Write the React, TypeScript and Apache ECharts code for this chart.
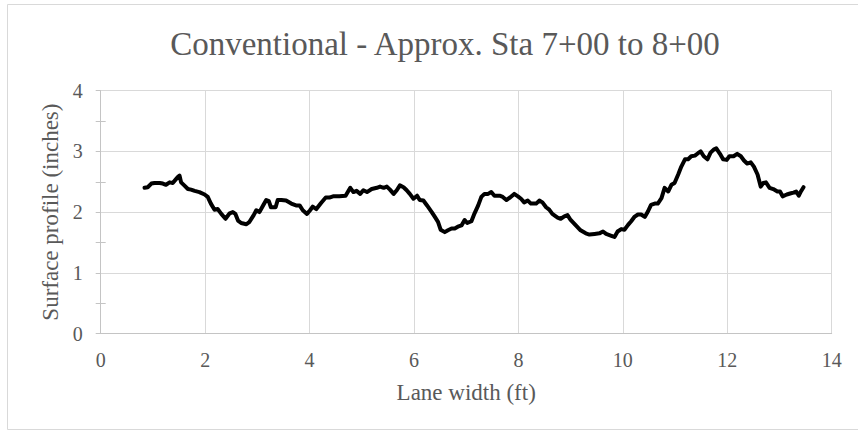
import React, { useEffect, useRef } from "react";
import * as echarts from "echarts";

// Transverse surface profile, conventional section, Sta 7+00 to 8+00
const laneWidth: number[] = [
  0.84, 0.9, 0.97, 1.03, 1.13, 1.19, 1.25, 1.32, 1.38, 1.43, 1.48, 1.51, 1.54, 1.6, 1.67, 1.73, 1.8, 1.89, 1.99,
  2.05, 2.11, 2.18, 2.24, 2.31, 2.39, 2.47, 2.53, 2.58, 2.63, 2.69, 2.79, 2.85, 2.93, 2.98, 3.04, 3.11, 3.17, 3.22,
  3.26, 3.35, 3.39, 3.46, 3.55, 3.65, 3.74, 3.81, 3.87, 3.95, 4.01, 4.06, 4.13, 4.22, 4.31, 4.38, 4.45, 4.57,
  4.69, 4.78, 4.84, 4.9, 4.97, 5.03, 5.1, 5.19, 5.29, 5.35, 5.42, 5.48, 5.54, 5.61, 5.67, 5.73, 5.8, 5.86, 5.92,
  5.99, 6.06, 6.11, 6.18, 6.25, 6.34, 6.4, 6.46, 6.51, 6.59, 6.65, 6.72, 6.78, 6.84, 6.91, 6.97, 7.02, 7.1, 7.16,
  7.23, 7.29, 7.35, 7.42, 7.48, 7.54, 7.64, 7.7, 7.77, 7.84, 7.92, 7.99, 8.05, 8.11, 8.18, 8.24, 8.34, 8.4, 8.46,
  8.53, 8.59, 8.65, 8.75, 8.81, 8.88, 8.94, 9.0, 9.1, 9.19,
  9.29, 9.36, 9.46, 9.55, 9.62, 9.68, 9.78, 9.84, 9.9, 9.97, 10.03, 10.1, 10.16, 10.22, 10.29, 10.35, 10.42,
  10.48, 10.54, 10.61, 10.67, 10.74, 10.8, 10.87, 10.93, 10.99, 11.06, 11.12, 11.19, 11.25, 11.31, 11.38, 11.44,
  11.49, 11.55, 11.62, 11.68, 11.74, 11.79, 11.86, 11.92, 11.99, 12.04, 12.12, 12.19, 12.26, 12.32, 12.38, 12.45,
  12.51, 12.58, 12.64, 12.69, 12.74, 12.81, 12.88, 12.96, 13.01, 13.06, 13.14, 13.22, 13.27, 13.32, 13.37, 13.41,
  13.46,
];

const surfaceProfile: number[] = [
  2.4, 2.41, 2.47, 2.48, 2.48, 2.47, 2.45, 2.49, 2.48, 2.53, 2.58, 2.6, 2.49, 2.44, 2.38, 2.37, 2.35, 2.33, 2.29,
  2.25, 2.14, 2.04, 2.05, 1.97, 1.89, 1.98, 2.0, 1.97, 1.86, 1.82, 1.8, 1.84, 1.95, 2.03, 2.0, 2.11, 2.2, 2.18,
  2.08, 2.08, 2.2, 2.2, 2.19, 2.14, 2.11, 2.11, 2.03, 1.97, 2.03, 2.09, 2.05, 2.15, 2.24, 2.24, 2.26, 2.26,
  2.27, 2.4, 2.33, 2.35, 2.3, 2.36, 2.33, 2.38, 2.4, 2.42, 2.4, 2.42, 2.37, 2.3, 2.36, 2.44, 2.41, 2.36, 2.3,
  2.22, 2.27, 2.2, 2.19, 2.11, 2.0, 1.92, 1.84, 1.71, 1.67, 1.7, 1.73, 1.73, 1.76, 1.78, 1.87, 1.82, 1.85, 1.98,
  2.11, 2.25, 2.3, 2.3, 2.33, 2.27, 2.27, 2.25, 2.2, 2.24, 2.3, 2.26, 2.22, 2.16, 2.19, 2.14, 2.14, 2.19, 2.16,
  2.08, 2.04, 1.97, 1.91, 1.89, 1.93, 1.95, 1.87, 1.78, 1.7,
  1.65, 1.63, 1.64, 1.65, 1.68, 1.64, 1.61, 1.59, 1.68, 1.72, 1.71, 1.79, 1.85, 1.92, 1.96, 1.96, 1.92,
  2.01, 2.12, 2.14, 2.14, 2.23, 2.4, 2.34, 2.45, 2.48, 2.62, 2.75, 2.87, 2.87, 2.92, 2.93, 2.97,
  3.0, 2.92, 2.87, 2.98, 3.03, 3.05, 2.96, 2.87, 2.86, 2.92, 2.92, 2.96, 2.92, 2.85, 2.8, 2.82,
  2.75, 2.62, 2.42, 2.48, 2.49, 2.4, 2.38, 2.34, 2.34, 2.26, 2.29, 2.31, 2.32, 2.34, 2.27, 2.34,
  2.41,
];

const xTicks = { min: 0, max: 14, interval: 2 };
const yTicks = { min: 0, max: 4, interval: 1 };
const minorYTicks: number[] = [0.5, 1.5, 2.5, 3.5];

const chartTitle = "Conventional - Approx. Sta 7+00 to 8+00";
const xName = "Lane width (ft)";
const yName = "Surface profile (inches)";

const FONT = "'Liberation Serif', 'Times New Roman', serif";
const TEXT = "#595959";
const GRID = "#d9d9d9";
const AXIS = "#c4c4c4";

export default function App() {
  const ref = useRef<HTMLDivElement>(null);

  useEffect(() => {
    if (!ref.current) return;
    const chart = echarts.init(ref.current, undefined, { renderer: "svg" });
    const points = laneWidth.map((x, i) => [x, surfaceProfile[i]]);

    chart.setOption({
      animation: false,
      backgroundColor: "#ffffff",
      textStyle: { fontFamily: FONT },
      title: {
        text: chartTitle,
        left: 440,
        top: 22,
        textAlign: "center",
        textStyle: { fontFamily: FONT, fontSize: 33, fontWeight: "normal", color: TEXT },
      },
      graphic: [
        {
          type: "rect",
          shape: { x: 7.5, y: 4.5, width: 900, height: 425 },
          style: { fill: "none", stroke: GRID, lineWidth: 1 },
          silent: true,
          z: -1,
        },
      ],
      grid: { left: 100.7, right: 26.3, top: 90.7, bottom: 100.5, containLabel: false },
      xAxis: {
        type: "value",
        min: xTicks.min,
        max: xTicks.max,
        interval: xTicks.interval,
        name: xName,
        nameLocation: "middle",
        nameGap: 47,
        nameTextStyle: { fontFamily: FONT, fontSize: 23, color: TEXT },
        axisLine: { show: true, lineStyle: { color: AXIS, width: 1 } },
        axisTick: { show: false },
        axisLabel: { fontFamily: FONT, fontSize: 20, color: TEXT, margin: 16 },
        splitLine: { show: true, lineStyle: { color: GRID, width: 1 } },
      },
      yAxis: [
        {
          type: "value",
          min: yTicks.min,
          max: yTicks.max,
          interval: yTicks.interval,
          name: yName,
          nameLocation: "middle",
          nameGap: 36,
          nameTextStyle: { fontFamily: FONT, fontSize: 23, color: TEXT },
          axisLine: { show: true, lineStyle: { color: AXIS, width: 1 } },
          axisTick: { show: true, length: 5, lineStyle: { color: AXIS } },
          minorTick: { show: true, splitNumber: 2, length: 5, lineStyle: { color: AXIS } },
          axisLabel: { fontFamily: FONT, fontSize: 20, color: TEXT, margin: 18 },
          splitLine: { show: true, lineStyle: { color: GRID, width: 1 } },
        },
        {
          type: "value",
          min: yTicks.min,
          max: yTicks.max,
          position: "left",
          axisLine: { show: false },
          axisLabel: { show: false },
          splitLine: { show: false },
          axisTick: {
            show: true,
            inside: true,
            length: 5,
            customValues: minorYTicks,
            lineStyle: { color: AXIS },
          },
        },
      ],
      series: [
        {
          type: "line",
          xAxisIndex: 0,
          yAxisIndex: 0,
          data: points,
          showSymbol: false,
          symbol: "none",
          smooth: false,
          lineStyle: { color: "#000000", width: 4, join: "round", cap: "round" },
          z: 5,
        },
      ],
    });

    return () => chart.dispose();
  }, []);

  return (
    <div
      ref={ref}
      style={{ position: "fixed", left: 0, top: 0, width: 858, height: 434, background: "#ffffff" }}
    />
  );
}
